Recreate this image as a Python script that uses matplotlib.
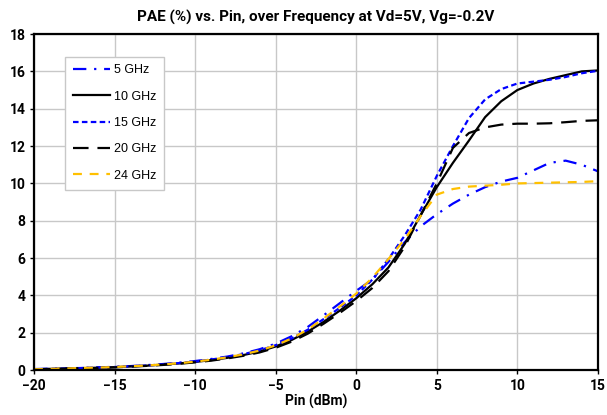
import numpy as np
import matplotlib
matplotlib.use("Agg")
import matplotlib.pyplot as plt

pin = list(range(-20, 16))

pae_5 = [0.06, 0.08, 0.10, 0.12, 0.15, 0.18, 0.22, 0.27, 0.33, 0.40, 0.49, 0.60, 0.73, 0.90, 1.12, 1.42,
         1.82, 2.32, 2.95, 3.6, 4.25, 4.85, 5.8, 6.85, 7.7, 8.35, 8.92, 9.4, 9.8, 10.1, 10.3, 10.7,
         11.1, 11.22, 11.0, 10.65]
pae_10 = [0.05, 0.07, 0.09, 0.11, 0.13, 0.16, 0.20, 0.24, 0.30, 0.36, 0.44, 0.54, 0.66, 0.81, 1.0, 1.27,
          1.62, 2.07, 2.6, 3.2, 3.85, 4.6, 5.5, 6.75, 8.3, 9.8, 11.1, 12.3, 13.55, 14.4, 15.0, 15.35,
          15.6, 15.8, 16.0, 16.05]
pae_15 = [0.05, 0.07, 0.09, 0.12, 0.14, 0.17, 0.21, 0.25, 0.31, 0.38, 0.46, 0.57, 0.70, 0.86, 1.06, 1.34,
          1.7, 2.17, 2.75, 3.35, 4.0, 4.85, 5.95, 7.2, 8.6, 10.4, 12.0, 13.5, 14.5, 15.05, 15.35, 15.45,
          15.55, 15.7, 15.9, 16.03]
pae_20 = [0.05, 0.06, 0.08, 0.10, 0.12, 0.15, 0.19, 0.23, 0.28, 0.34, 0.42, 0.51, 0.63, 0.77, 0.95, 1.2,
          1.53, 1.96, 2.5, 3.08, 3.7, 4.4, 5.3, 6.6, 8.3, 10.0, 11.9, 12.7, 13.0, 13.15, 13.2, 13.2,
          13.22, 13.28, 13.35, 13.38]
pae_24 = [0.05, 0.07, 0.09, 0.12, 0.14, 0.17, 0.21, 0.25, 0.31, 0.37, 0.46, 0.56, 0.69, 0.85, 1.05, 1.33,
          1.7, 2.18, 2.78, 3.42, 4.1, 4.95, 5.95, 7.0, 8.25, 9.4, 9.7, 9.83, 9.88, 9.93, 10.0, 10.02,
          10.04, 10.06, 10.08, 10.12]

labels = ["5 GHz", "10 GHz", "15 GHz", "20 GHz", "24 GHz"]

fig = plt.figure(figsize=(6.07, 4.15), dpi=100)
ax = fig.add_axes([0.056, 0.108, 0.929, 0.81])

ax.plot(pin, pae_5, color="#0000ff", lw=1.6, dashes=(6, 3.5, 1, 3.5), label=labels[0])
ax.plot(pin, pae_10, color="black", lw=1.6, label=labels[1])
ax.plot(pin, pae_15, color="#0000ff", lw=1.6, dashes=(2.5, 1.5), label=labels[2])
ax.plot(pin, pae_20, color="black", lw=1.6, dashes=(7, 4), label=labels[3])
ax.plot(pin, pae_24, color="#ffc000", lw=1.6, dashes=(4, 3.5), label=labels[4])

ax.set_xlim(-20, 15)
ax.set_ylim(0, 18)
ax.set_xticks(range(-20, 16, 5))
ax.set_yticks(range(0, 19, 2))
ax.grid(True, color="#c8c8c8", lw=1)
ax.set_axisbelow(True)
for s in ax.spines.values():
    s.set_linewidth(1.6)
    s.set_color("black")
ax.tick_params(length=3, width=1, labelsize=10, pad=3)
for t in ax.get_xticklabels() + ax.get_yticklabels():
    t.set_fontfamily("Roboto")
    t.set_fontweight("bold")

ax.set_xlabel("Pin (dBm)", fontfamily="Roboto", fontweight="bold", fontsize=10, labelpad=1)
ax.set_title("PAE (%) vs. Pin, over Frequency at Vd=5V, Vg=-0.2V",
             fontfamily="Roboto", fontweight="bold", fontsize=11, pad=9)

leg = ax.legend(loc="upper left", bbox_to_anchor=(0.055, 0.933), fancybox=False,
                prop={"family": "Liberation Sans", "size": 9}, labelspacing=1.15,
                handlelength=3.0, handletextpad=0.3, borderpad=0.62, framealpha=1,
                borderaxespad=0)
leg.get_frame().set_edgecolor("#c8c8c8")
leg.get_frame().set_linewidth(1)

fig.savefig("out.png", dpi=100)
